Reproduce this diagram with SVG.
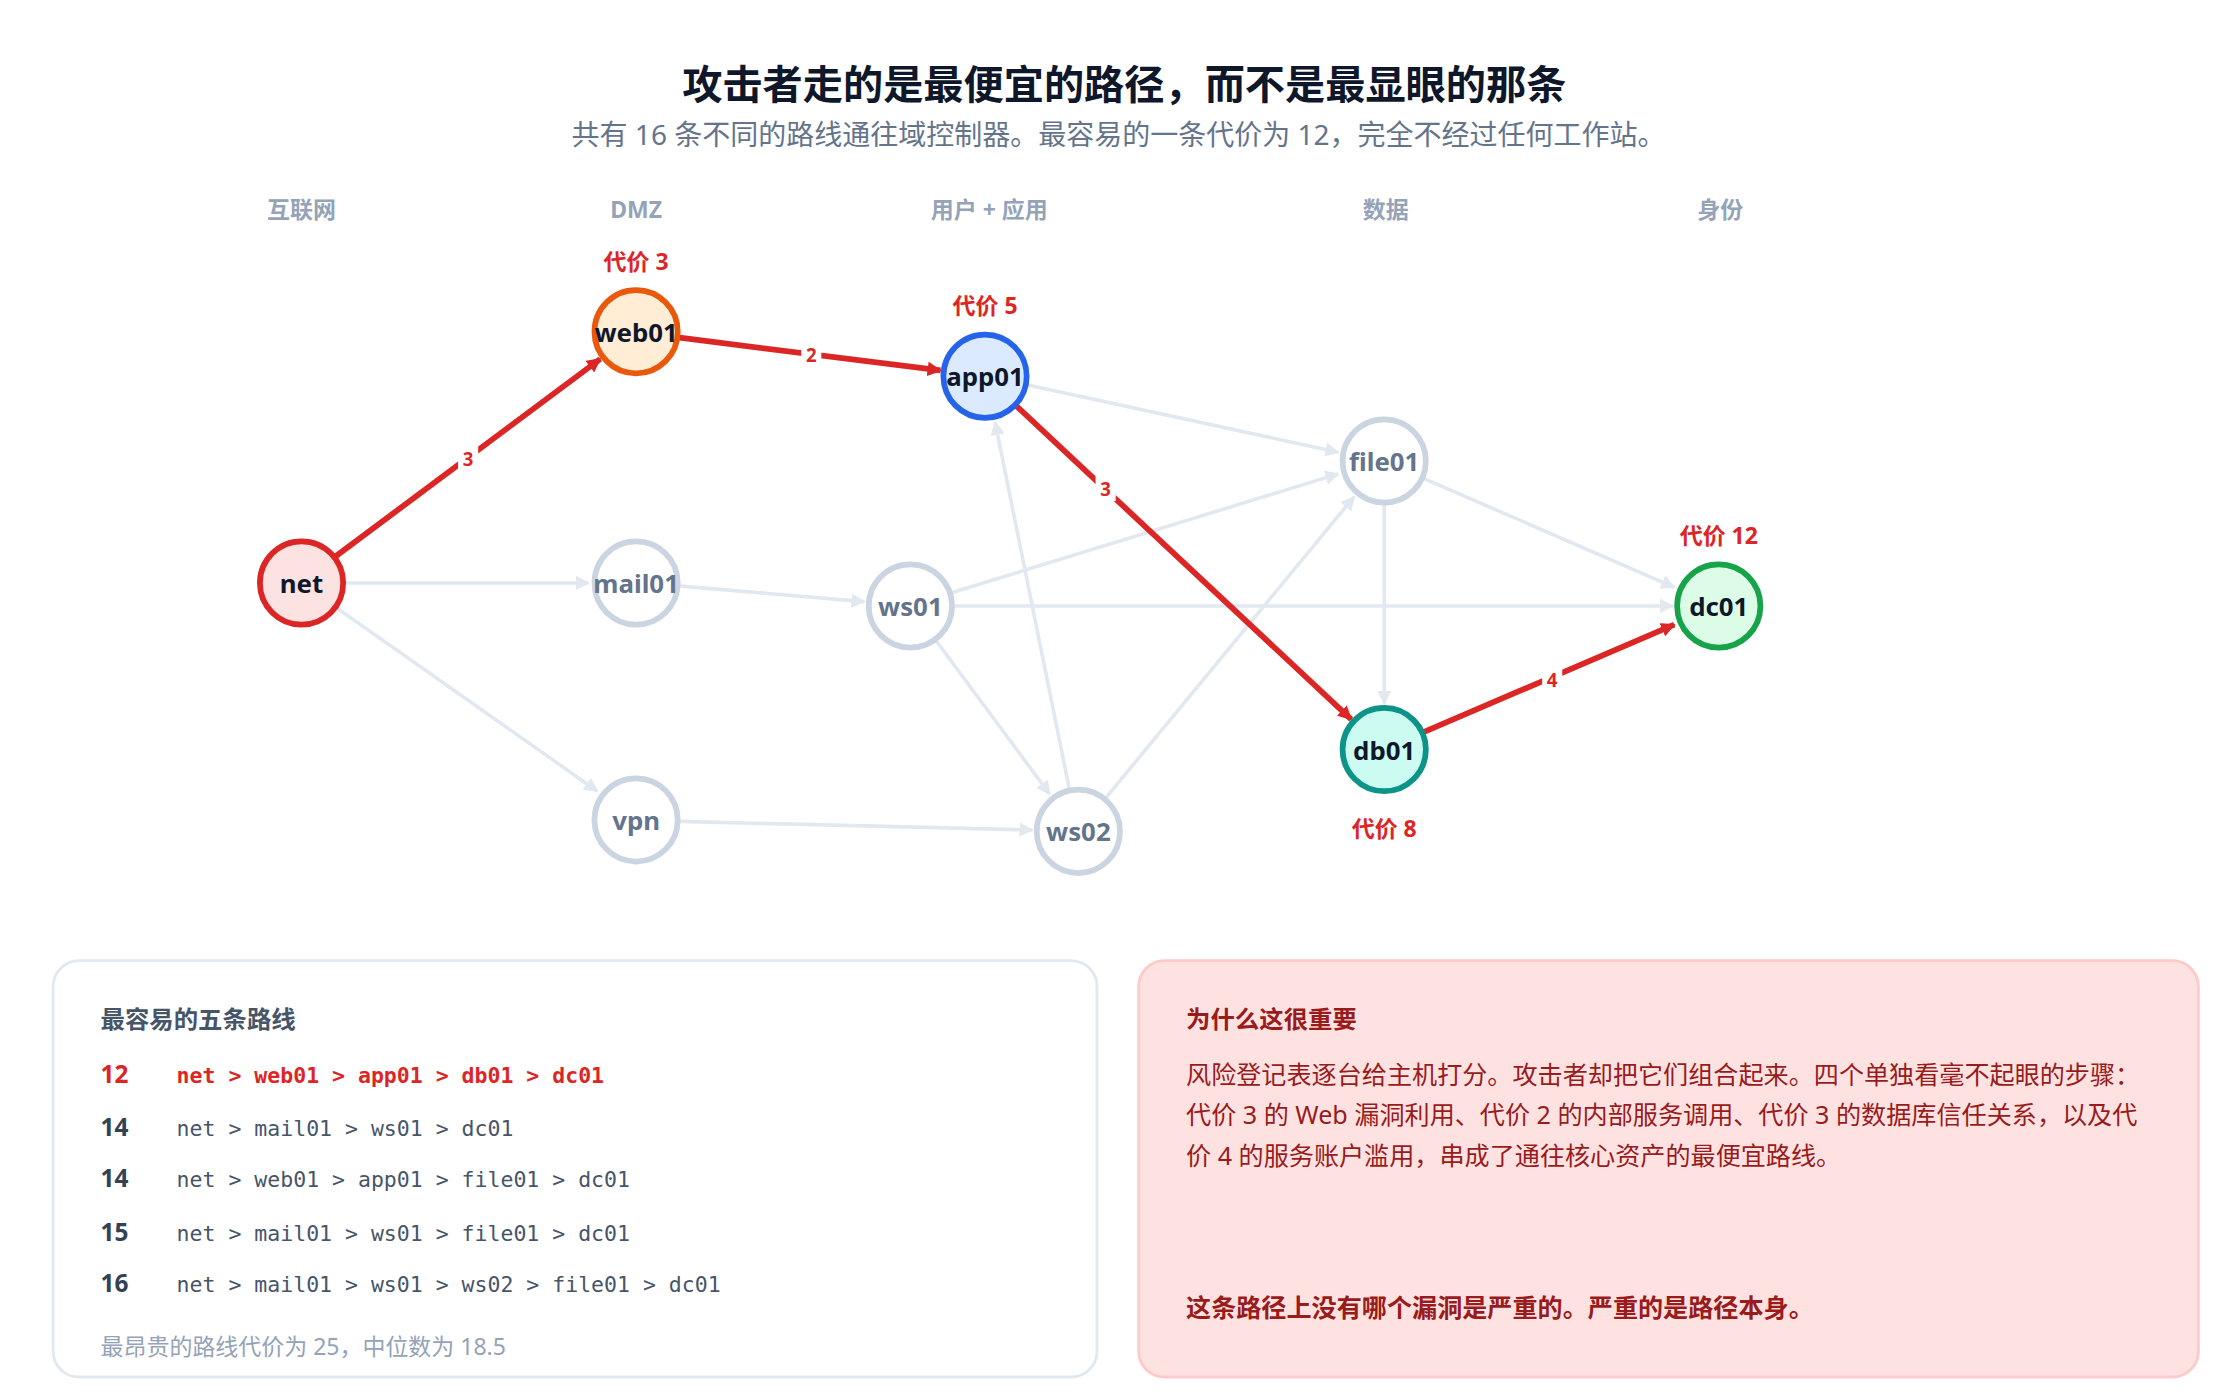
<svg xmlns="http://www.w3.org/2000/svg" width="2240" height="1400" viewBox="0 0 2240 1400">
<style>
text{font-family:"Noto Sans","Noto Sans CJK SC",sans-serif}
.hd{font-size:16px;font-weight:700;fill:#94a3b8;text-anchor:middle}
.g{stroke:#e2e8f0;stroke-width:2.5;fill:none;marker-end:url(#ag)}
.r{stroke:#dc2626;stroke-width:4;fill:none;marker-end:url(#ar)}
.nd{stroke-width:4}
.gray{fill:#fff;stroke:#cbd5e1}
.nl{font-size:18px;font-weight:700;text-anchor:middle;dominant-baseline:central}
.gl{fill:#64748b}
.dl{fill:#0f172a}
.cost{font-size:16px;font-weight:700;fill:#dc2626;text-anchor:middle}
.el{font-size:13px;font-weight:700;fill:#dc2626;text-anchor:middle;dominant-baseline:central}
.mono{font-family:"DejaVu Sans Mono","Liberation Mono",monospace;font-size:15px;fill:#475569}
.num{font-size:17px;font-weight:700;fill:#334155}
.body{font-size:17.5px;fill:#991b1b}
</style>
<defs>
<marker id="ag" viewBox="0 0 10 10" refX="9" refY="5" markerWidth="4" markerHeight="4" orient="auto"><path d="M0,0L10,5L0,10z" fill="#e2e8f0"/></marker>
<marker id="ar" viewBox="0 0 10 10" refX="9" refY="5" markerWidth="2.5" markerHeight="2.5" orient="auto"><path d="M0,0L10,5L0,10z" fill="#dc2626"/></marker>
</defs>
<rect width="2240" height="1400" fill="#fff"/>
<g transform="scale(1.4359)">
<text x="783" y="69" font-size="28" font-weight="700" fill="#0f172a" text-anchor="middle">攻击者走的是最便宜的路径，而不是最显眼的那条</text>
<text x="779" y="101" font-size="19.5" fill="#64748b" text-anchor="middle">共有 16 条不同的路线通往域控制器。最容易的一条代价为 12，完全不经过任何工作站。</text>
<g id="headers">
<text class="hd" x="210" y="152">互联网</text>
<text class="hd" x="443" y="152">DMZ</text>
<text class="hd" x="689" y="152">用户 + 应用</text>
<text class="hd" x="965" y="152">数据</text>
<text class="hd" x="1198" y="152">身份</text>
</g>
<g id="connectors">
<line class="g" x1="239" y1="406" x2="410" y2="406"/>
<line class="g" x1="234" y1="423" x2="416" y2="551"/>
<line class="g" x1="472" y1="408" x2="602" y2="419"/>
<line class="g" x1="472" y1="572" x2="719" y2="578"/>
<line class="g" x1="662" y1="413" x2="932" y2="330"/>
<line class="g" x1="663" y1="422" x2="1165" y2="422"/>
<line class="g" x1="651" y1="445" x2="731" y2="553"/>
<line class="g" x1="745" y1="551" x2="693" y2="294"/>
<line class="g" x1="769" y1="557" x2="943" y2="346"/>
<line class="g" x1="715" y1="268" x2="932" y2="315"/>
<line class="g" x1="991" y1="333" x2="1166" y2="409"/>
<line class="g" x1="964" y1="350" x2="964" y2="490"/>
<line class="r" x1="233" y1="388" x2="418" y2="250"/>
<line class="r" x1="472" y1="235" x2="655" y2="258"/>
<line class="r" x1="707" y1="282" x2="941" y2="501"/>
<line class="r" x1="991" y1="510" x2="1166" y2="435"/>
<g>
<rect x="319" y="310" width="14" height="18" fill="#fff"/><text class="el" x="326" y="319">3</text>
<rect x="558" y="238" width="14" height="18" fill="#fff"/><text class="el" x="565" y="247">2</text>
<rect x="763" y="331" width="14" height="18" fill="#fff"/><text class="el" x="770" y="340">3</text>
<rect x="1074" y="464" width="14" height="18" fill="#fff"/><text class="el" x="1081" y="473">4</text>
</g>
</g>
<g id="net"><circle class="nd" cx="210" cy="406" r="29" fill="#fde2e2" stroke="#dc2626"/><text class="nl dl" x="210" y="406">net</text></g>
<g id="web01"><circle class="nd" cx="443" cy="231" r="29" fill="#ffedd5" stroke="#ea580c"/><text class="nl dl" x="443" y="231">web01</text><text class="cost" x="443" y="188">代价 3</text></g>
<g id="app01"><circle class="nd" cx="686" cy="262" r="29" fill="#dbeafe" stroke="#2563eb"/><text class="nl dl" x="686" y="262">app01</text><text class="cost" x="686" y="219">代价 5</text></g>
<g id="mail01"><circle class="nd gray" cx="443" cy="406" r="29"/><text class="nl gl" x="443" y="406">mail01</text></g>
<g id="vpn"><circle class="nd gray" cx="443" cy="571" r="29"/><text class="nl gl" x="443" y="571">vpn</text></g>
<g id="ws01"><circle class="nd gray" cx="634" cy="422" r="29"/><text class="nl gl" x="634" y="422">ws01</text></g>
<g id="ws02"><circle class="nd gray" cx="751" cy="579" r="29"/><text class="nl gl" x="751" y="579">ws02</text></g>
<g id="file01"><circle class="nd gray" cx="964" cy="321" r="29"/><text class="nl gl" x="964" y="321">file01</text></g>
<g id="db01"><circle class="nd" cx="964" cy="522" r="29" fill="#ccfbf1" stroke="#0d9488"/><text class="nl dl" x="964" y="522">db01</text><text class="cost" x="964" y="583">代价 8</text></g>
<g id="dc01"><circle class="nd" cx="1197" cy="422" r="29" fill="#dcfce7" stroke="#16a34a"/><text class="nl dl" x="1197" y="422">dc01</text><text class="cost" x="1197" y="379">代价 12</text></g>
<g id="routes">
<rect x="37" y="669" width="727" height="290" rx="18" fill="#fff" stroke="#e2e8f0" stroke-width="2"/>
<text x="70" y="716" font-size="17" font-weight="700" fill="#475569">最容易的五条路线</text>
<text class="num" x="70" y="754" style="fill:#dc2626">12</text><text class="mono" x="123" y="754" style="fill:#dc2626;font-weight:700">net &gt; web01 &gt; app01 &gt; db01 &gt; dc01</text>
<text class="num" x="70" y="791">14</text><text class="mono" x="123" y="791">net &gt; mail01 &gt; ws01 &gt; dc01</text>
<text class="num" x="70" y="827">14</text><text class="mono" x="123" y="827">net &gt; web01 &gt; app01 &gt; file01 &gt; dc01</text>
<text class="num" x="70" y="864">15</text><text class="mono" x="123" y="864">net &gt; mail01 &gt; ws01 &gt; file01 &gt; dc01</text>
<text class="num" x="70" y="900">16</text><text class="mono" x="123" y="900">net &gt; mail01 &gt; ws01 &gt; ws02 &gt; file01 &gt; dc01</text>
<text x="70" y="944" font-size="16" fill="#94a3b8">最昂贵的路线代价为 25，中位数为 18.5</text>
</g>
<g id="why">
<rect x="793" y="669" width="738" height="290" rx="18" fill="#fee2e2" stroke="#fecaca" stroke-width="2"/>
<text x="826" y="716" font-size="17" font-weight="700" fill="#991b1b">为什么这很重要</text>
<text class="body" x="826" y="755">风险登记表逐台给主机打分。攻击者却把它们组合起来。四个单独看毫不起眼的步骤：</text>
<text class="body" x="826" y="783">代价 3 的 Web 漏洞利用、代价 2 的内部服务调用、代价 3 的数据库信任关系，以及代</text>
<text class="body" x="826" y="811">价 4 的服务账户滥用，串成了通往核心资产的最便宜路线。</text>
<text x="826" y="917" font-size="17.5" font-weight="700" fill="#991b1b">这条路径上没有哪个漏洞是严重的。严重的是路径本身。</text>
</g>
</g>
</svg>
